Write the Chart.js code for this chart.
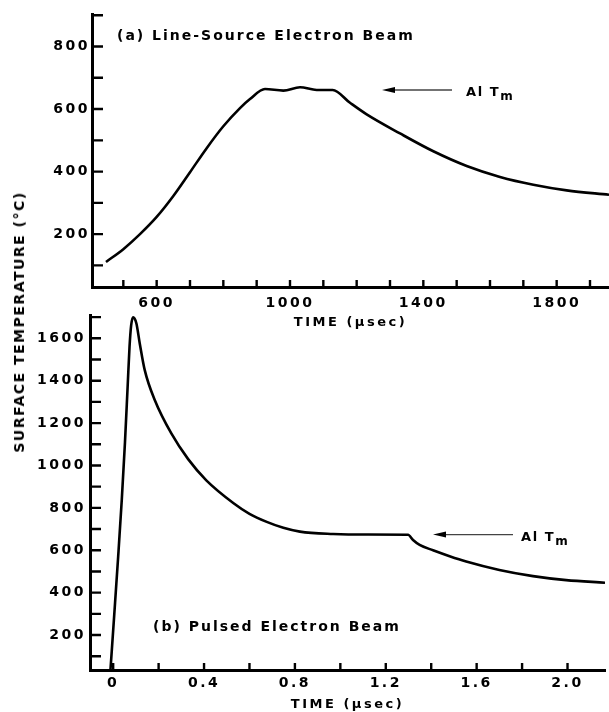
<!DOCTYPE html>
<html lang="en">
<head>
<meta charset="UTF-8" />
<title>Surface temperature - electron beam heating</title>
<script src="https://cdn.jsdelivr.net/npm/chart.js"></script>
<style>
    body { margin: 0; background: #fff; }
    #wrap { position: relative; width: 609px; height: 712px; overflow: hidden; }
    canvas { position: absolute; left: 0; }
    #c1 { top: 0; }
    #c2 { top: 300px; }
    .lbl {
        position: absolute;
        font-family: "DejaVu Sans", sans-serif;
        font-weight: bold;
        font-size: 14px;
        line-height: 14px;
        letter-spacing: 2px;
        white-space: nowrap;
        color: #000;
    }
    .tm { font-size: 13px; line-height: 13px; letter-spacing: 1.6px; }
    .tm sub { font-size: 12px; vertical-align: -4px; letter-spacing: 0; }
    #ytitle {
        left: 19px; top: 322px;
        letter-spacing: 1.5px;
        transform: translate(-50%, -50%) rotate(-90deg);
    }
</style>
</head>
<body>
<div id="wrap">
    <canvas id="c1" width="609" height="330"></canvas>
    <canvas id="c2" width="609" height="412"></canvas>
    <div class="lbl" style="left:117px; top:28px;">(a) Line-Source Electron Beam</div>
    <div class="lbl tm" style="left:466px; top:85px;">Al T<sub>m</sub></div>
    <div class="lbl" style="left:153px; top:619px;">(b) Pulsed Electron Beam</div>
    <div class="lbl tm" style="left:521px; top:530px;">Al T<sub>m</sub></div>
    <div class="lbl" id="ytitle">SURFACE TEMPERATURE (°C)</div>
</div>

<script>
    // (a) line-source beam, time in usec
    const timeA = [448, 500, 550, 600, 650, 700, 750, 800, 850, 880, 925, 980, 1030, 1080, 1128,
                   1180, 1230, 1330, 1430, 1530, 1630, 1730, 1830, 1957];
    const tempA = [111, 152, 200, 255, 322, 398, 475, 545, 603, 632, 664, 659, 670, 661, 661,
                   620, 583, 522, 465, 418, 383, 358, 340, 326];

    // (b) pulsed beam, time in usec
    const timeB = [-0.012, 0.005, 0.022, 0.038, 0.052, 0.064, 0.072, 0.079, 0.088, 0.102, 0.117,
                   0.139, 0.183, 0.256, 0.33, 0.41, 0.53, 0.60, 0.676, 0.749, 0.822, 0.968,
                   1.115, 1.298, 1.32, 1.349, 1.408, 1.481, 1.554, 1.70, 1.848, 1.994, 2.165];
    const tempB = [35, 300, 570, 840, 1110, 1380, 1560, 1660, 1699, 1671, 1576,
                   1450, 1309, 1151, 1030, 930, 822, 772, 734, 706, 688, 677,
                   674, 673, 648, 625, 600, 572, 547, 507, 478, 459, 447];

    // melting point markers (data units)
    const arrowA = { from: 1486, to: 1276, y: 661 };
    const arrowB = { from: 1.76, to: 1.408, y: 674 };

    const FONT = "DejaVu Sans";

    // Chart.js has no letter-spacing option, set it on the context
    const spacing = {
        id: "spacing",
        beforeDraw(chart) {
            chart.ctx.letterSpacing = "2.5px";
        },
    };

    // ticks pointing into the plot + the "Al Tm" arrow
    const inwardTicks = {
        id: "inwardTicks",
        afterDraw(chart, args, opts) {
            const { ctx, chartArea } = chart;
            const xs = chart.scales.x;
            const ys = chart.scales.y;
            ctx.save();
            ctx.strokeStyle = "#000";
            ctx.lineWidth = 2.4;
            ctx.beginPath();
            xs.ticks.forEach((t) => {
                const p = xs.getPixelForValue(t.value);
                ctx.moveTo(p, chartArea.bottom);
                ctx.lineTo(p, chartArea.bottom - opts.xLen);
            });
            ys.ticks.forEach((t) => {
                const p = ys.getPixelForValue(t.value);
                ctx.moveTo(chartArea.left, p);
                ctx.lineTo(chartArea.left + opts.yLen, p);
            });
            ctx.stroke();

            const a = opts.arrow;
            const x1 = xs.getPixelForValue(a.from);
            const x2 = xs.getPixelForValue(a.to);
            const y = ys.getPixelForValue(a.y);
            ctx.strokeStyle = "#444";
            ctx.lineWidth = 1.3;
            ctx.beginPath();
            ctx.moveTo(x1, y);
            ctx.lineTo(x2 + 8, y);
            ctx.stroke();
            ctx.fillStyle = "#000";
            ctx.beginPath();
            ctx.moveTo(x2, y);
            ctx.lineTo(x2 + 13, y - 3);
            ctx.lineTo(x2 + 13, y + 3);
            ctx.closePath();
            ctx.fill();
            ctx.restore();
        },
    };

    function makeChart(id, xs, ys, cfg) {
        return new Chart(document.getElementById(id), {
            type: "line",
            data: {
                datasets: [{
                    data: xs.map((x, i) => ({ x: x, y: ys[i] })),
                    borderColor: "#000",
                    borderWidth: 2.6,
                    pointRadius: 0,
                    fill: false,
                    cubicInterpolationMode: "monotone",
                }],
            },
            options: {
                responsive: false,
                animation: false,
                layout: { padding: { top: cfg.top, right: cfg.right, left: 0, bottom: 0 } },
                plugins: {
                    legend: { display: false },
                    tooltip: { enabled: false },
                    inwardTicks: { xLen: 7, yLen: 11, arrow: cfg.arrow },
                },
                scales: {
                    x: {
                        type: "linear",
                        min: cfg.xMin,
                        max: cfg.xMax,
                        grid: { display: false, drawTicks: false },
                        border: { display: true, color: "#000", width: 3 },
                        ticks: {
                            stepSize: cfg.xStep,
                            maxTicksLimit: cfg.xLimit,
                            includeBounds: false,
                            autoSkip: false,
                            maxRotation: 0,
                            padding: cfg.xPad,
                            color: "#000",
                            font: { family: FONT, size: 14, weight: "bold" },
                            callback: cfg.xLabel,
                        },
                        title: {
                            display: true,
                            text: "TIME (μsec)",
                            color: "#000",
                            padding: { top: 0, bottom: 0 },
                            font: { family: FONT, size: 13, weight: "bold" },
                        },
                        afterFit: (s) => { s.height = cfg.xHeight; },
                    },
                    y: {
                        min: cfg.yMin,
                        max: cfg.yMax,
                        grid: { display: false, drawTicks: false },
                        border: { display: true, color: "#000", width: 3 },
                        ticks: {
                            stepSize: 100,
                            maxTicksLimit: cfg.yLimit,
                            includeBounds: false,
                            autoSkip: false,
                            padding: cfg.yPad,
                            color: "#000",
                            font: { family: FONT, size: 14, weight: "bold" },
                            callback: cfg.yLabel,
                        },
                        afterFit: (s) => { s.width = cfg.yWidth; },
                    },
                },
            },
            plugins: [spacing, inwardTicks],
        });
    }

    makeChart("c1", timeA, tempA, {
        top: 14, right: 0,
        xMin: 406, xMax: 1957, xStep: 100, xLimit: 20, xPad: 8, xHeight: 43,
        yMin: 31, yMax: 904, yLimit: 11, yPad: 2, yWidth: 92,
        xLabel: (v) => (v % 400 === 200 ? String(v) : ""),
        yLabel: (v) => (v % 200 === 0 && v <= 800 ? String(v) : ""),
        arrow: arrowA,
    });

    makeChart("c2", timeB, tempB, {
        top: 15, right: 4,
        xMin: -0.102, xMax: 2.165, xStep: 0.2, xLimit: 15, xPad: 5, xHeight: 42,
        yMin: 35, yMax: 1710, yLimit: 20, yPad: 4, yWidth: 90,
        xLabel: (v) => {
            const k = Math.round(v / 0.2);
            if (k % 2 !== 0) return "";
            return k === 0 ? "0" : (k * 0.2).toFixed(1);
        },
        yLabel: (v) => (v % 200 === 0 && v <= 1600 ? String(v) : ""),
        arrow: arrowB,
    });
</script>
</body>
</html>
